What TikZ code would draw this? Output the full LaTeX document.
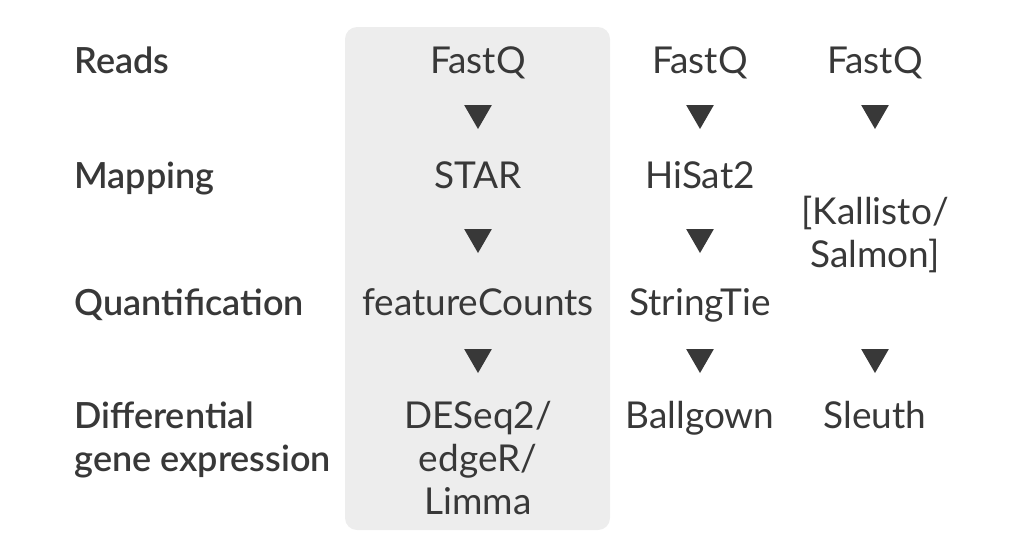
\documentclass[tikz,border=0pt]{standalone}
\usepackage{fontspec}
\setmainfont{Lato}
\newfontfamily\semib{Lato Semibold}
\usetikzlibrary{shapes.geometric}
\definecolor{ink}{HTML}{383838}
\definecolor{boxgray}{HTML}{EDEDED}
\tikzset{
  lbl/.style={anchor=base west, inner sep=0pt, text=ink, font=\fontsize{18}{21.5}\selectfont\semib, align=left},
  cell/.style={anchor=base, inner sep=0pt, text=ink, font=\fontsize{18.5}{21.5}\selectfont, align=center},
  tri/.style={regular polygon, regular polygon sides=3, shape border rotate=180, fill=ink, inner sep=0pt, minimum size=16pt}
}
\begin{document}
\begin{tikzpicture}[x=0.5pt,y=-0.5pt]
\useasboundingbox (0,0) rectangle (1026,548);
\fill[boxgray, rounded corners=6pt] (345,27) rectangle (610,530);
% row labels
\node[lbl] (reads) at (74,73) {Reads};
\node[lbl] (mapping) at (74,188) {Mapping};
\node[lbl] (quant) at (74,315) {Quantification};
\node[lbl] (dge) at (74,471) {Differential\\gene expression};
% column 1
\node[cell] (fq1) at (478,73) {FastQ};
\node[cell] (star) at (478,188) {STAR};
\node[cell] (fc) at (478,315) {featureCounts};
\node[cell] (deseq) at (478,514) {DESeq2/\\edgeR/\\Limma};
% column 2
\node[cell] (fq2) at (700,73) {FastQ};
\node[cell] (hisat) at (700,188) {HiSat2};
\node[cell] (st) at (700,315) {StringTie};
\node[cell] (ball) at (700,428) {Ballgown};
% column 3
\node[cell] (fq3) at (875,73) {FastQ};
\node[cell] (kal) at (875,267) {[Kallisto/\\Salmon]};
\node[cell] (sleuth) at (875,428) {Sleuth};
% triangles
\node[tri] (a11) at (478,113) {};
\node[tri] (a12) at (478,237) {};
\node[tri] (a13) at (478,357) {};
\node[tri] (a21) at (700,113) {};
\node[tri] (a22) at (700,237) {};
\node[tri] (a23) at (700,357) {};
\node[tri] (a31) at (875,113) {};
\node[tri] (a33) at (875,357) {};
\end{tikzpicture}
\end{document}
